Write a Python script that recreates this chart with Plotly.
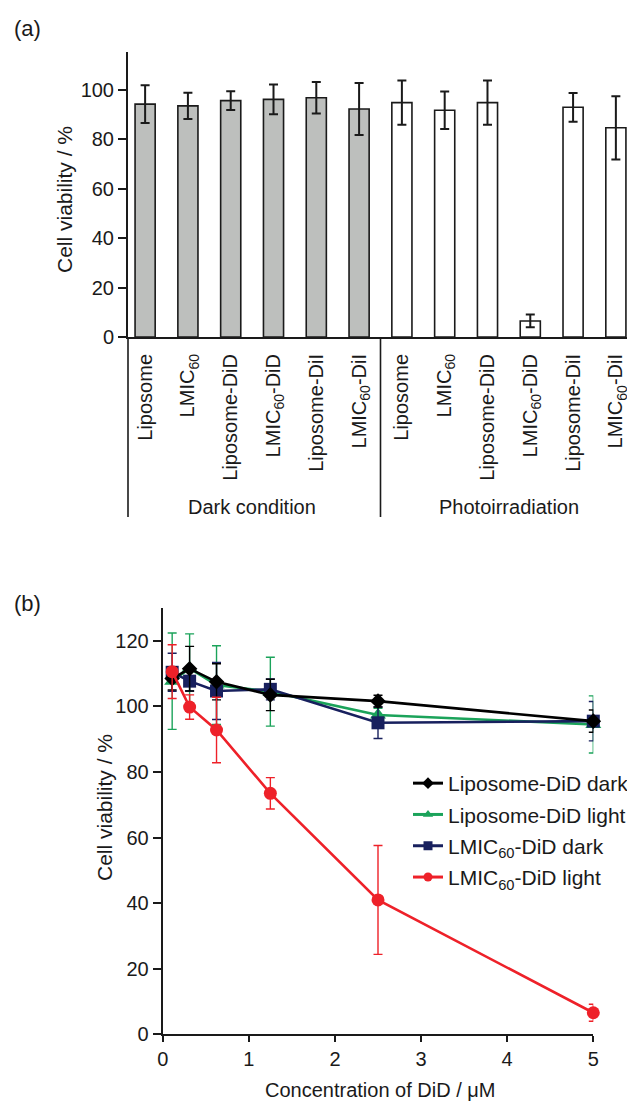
import plotly.graph_objects as go

W, H = 627, 1102
FONT = "Liberation Sans, Arial, sans-serif"

# ---------------- Panel (a) data ----------------
bar_labels = ["Liposome", "LMIC<sub>60</sub>", "Liposome-DiD",
              "LMIC<sub>60</sub>-DiD", "Liposome-DiI", "LMIC<sub>60</sub>-DiI"]
group_names = ["Dark condition", "Photoirradiation"]
dark_vals = [94.3, 93.6, 95.7, 96.2, 96.9, 92.3]
dark_err = [7.6, 5.3, 3.8, 6.0, 6.4, 10.5]
photo_vals = [94.9, 91.8, 94.9, 6.5, 93.0, 84.7]
photo_err = [9.0, 7.6, 9.0, 2.6, 5.8, 12.8]

# ---------------- Panel (b) data ----------------
conc = [0.11, 0.3125, 0.625, 1.25, 2.5, 5]
lip_dark = [108.5, 111.5, 107.5, 103.5, 101.6, 95.5]
lip_dark_err = [3.5, 6.8, 5.5, 4.8, 1.8, 3.4]
lip_light = [107.7, 111.6, 106.5, 104.5, 97.4, 94.5]
lip_light_err = [14.7, 10.5, 12.0, 10.5, 2.0, 8.7]
lmic_dark = [110.4, 107.7, 104.7, 105.2, 95.0, 95.5]
lmic_dark_err = [5.8, 3.0, 8.7, 3.2, 4.8, 6.0]
lmic_light = [110.6, 99.8, 92.8, 73.5, 41.0, 6.6]
lmic_light_err = [8.2, 3.7, 10.0, 4.8, 16.6, 2.6]

series_names = ["Liposome-DiD dark", "Liposome-DiD light",
                "LMIC<sub>60</sub>-DiD dark", "LMIC<sub>60</sub>-DiD light"]
series_colors = ["#000000", "#1BA35A", "#18205E", "#EE2129"]
series_symbols = ["diamond", "triangle-up", "square", "circle"]

# ---------------- layout geometry (pixels -> paper) ----------------
def px_x(p):
    return p / W

def px_y(p):
    return 1 - p / H

ax_a_dom = [px_x(128), 1.0]
ay_a_dom = [px_y(337), px_y(52)]
ax_a_range = [-0.4, 11.26]
ay_a_range = [0, 115.4]

ax_b_dom = [px_x(162.7), px_x(593.3)]
ay_b_dom = [px_y(1034.4), px_y(608)]

n_dark = len(dark_vals)
pos_dark = list(range(n_dark))
pos_photo = list(range(n_dark, n_dark + len(photo_vals)))

fig = go.Figure()

bar_line = dict(color="#1a1a1a", width=1.6)
fig.add_trace(go.Bar(
    x=pos_dark, y=dark_vals, width=0.47,
    marker=dict(color="#BDBFBD", line=bar_line),
    error_y=dict(type="data", array=dark_err, color="#1a1a1a", thickness=2, width=4.5),
    xaxis="x", yaxis="y", showlegend=False))
fig.add_trace(go.Bar(
    x=pos_photo, y=photo_vals, width=0.47,
    marker=dict(color="#FFFFFF", line=bar_line),
    error_y=dict(type="data", array=photo_err, color="#1a1a1a", thickness=2, width=4.5),
    xaxis="x", yaxis="y", showlegend=False))

# Panel (b) traces (draw order: green, navy, black, red)
series_data = [(lip_dark, lip_dark_err), (lip_light, lip_light_err),
               (lmic_dark, lmic_dark_err), (lmic_light, lmic_light_err)]
marker_sizes = [12, 14, 13, 13]
for idx in [1, 2, 0, 3]:
    vals, errs = series_data[idx]
    fig.add_trace(go.Scatter(
        x=conc, y=vals, mode="lines+markers",
        line=dict(color=series_colors[idx], width=2.6),
        marker=dict(symbol=series_symbols[idx], size=marker_sizes[idx],
                    color=series_colors[idx]),
        error_y=dict(type="data", array=errs, color=series_colors[idx],
                     thickness=1.4, width=4.5),
        cliponaxis=False, xaxis="x2", yaxis="y2", showlegend=False))

# legend-only traces with small markers
for i in range(4):
    fig.add_trace(go.Scatter(
        x=[None], y=[None], mode="lines+markers", name=series_names[i],
        line=dict(color=series_colors[i], width=3),
        marker=dict(symbol=series_symbols[i], size=9, color=series_colors[i]),
        legendgroup="g%d" % i,
        xaxis="x2", yaxis="y2", showlegend=True, legendrank=i + 1))

axis_common = dict(showline=True, linecolor="#1a1a1a", linewidth=2,
                   showgrid=False, zeroline=False,
                   tickfont=dict(family=FONT, size=20, color="#1a1a1a"),
                   tickcolor="#1a1a1a")

tick_pos = pos_dark + pos_photo
tick_text = bar_labels + bar_labels

fig.update_layout(
    width=W, height=H,
    margin=dict(l=0, r=0, t=0, b=0, autoexpand=False),
    paper_bgcolor="white", plot_bgcolor="white",
    font=dict(family=FONT, size=20, color="#1a1a1a"),
    barmode="overlay",
    xaxis=dict(domain=ax_a_dom, range=ax_a_range, anchor="y",
               tickvals=tick_pos, ticktext=tick_text, tickangle=-90,
               ticks="", ticklabelstandoff=7, ticklabeloverflow="allow",
               **axis_common),
    yaxis=dict(domain=ay_a_dom, range=ay_a_range, anchor="x",
               tickvals=[0, 20, 40, 60, 80, 100], ticks="outside",
               ticklen=8, tickwidth=1.6, **axis_common),
    xaxis2=dict(domain=ax_b_dom, range=[0, 5], anchor="y2",
                tickvals=[0, 1, 2, 3, 4, 5], ticks="outside",
                ticklen=6, tickwidth=1.6, **axis_common),
    yaxis2=dict(domain=ay_b_dom, range=[0, 130], anchor="x2",
                tickvals=[0, 20, 40, 60, 80, 100, 120], ticks="outside",
                ticklen=8, tickwidth=1.6, **axis_common),
    legend=dict(x=px_x(408), y=px_y(763), xanchor="left", yanchor="top",
                bgcolor="rgba(0,0,0,0)", font=dict(family=FONT, size=21),
                tracegroupgap=1, traceorder="grouped", itemsizing="trace"),
)

# Group separators below panel (a) x axis, mapped through the axis range
def a_paper_x(v):
    r0, r1 = ax_a_range
    return ax_a_dom[0] + (v - r0) / (r1 - r0) * (ax_a_dom[1] - ax_a_dom[0])

sep_bottom = px_y(517)
boundaries = [ax_a_range[0], (pos_dark[-1] + pos_photo[0]) / 2]
for b in boundaries:
    fig.add_shape(type="line", xref="paper", yref="paper",
                  x0=a_paper_x(b), x1=a_paper_x(b), y0=ay_a_dom[0], y1=sep_bottom,
                  line=dict(color="#1a1a1a", width=1.6))

group_centers = [sum(pos_dark) / len(pos_dark), sum(pos_photo) / len(pos_photo)]
for name, c in zip(group_names, group_centers):
    fig.add_annotation(x=c, xref="x", y=px_y(507), yref="paper", text=name,
                       showarrow=False, font=dict(family=FONT, size=20),
                       xanchor="center", yanchor="middle")

# Axis titles and panel labels
fig.add_annotation(x=px_x(64), y=px_y(200), xref="paper", yref="paper",
                   text="Cell viability / %", textangle=-90, showarrow=False,
                   font=dict(family=FONT, size=21), xanchor="center", yanchor="middle")
fig.add_annotation(x=px_x(104), y=px_y(808), xref="paper", yref="paper",
                   text="Cell viability / %", textangle=-90, showarrow=False,
                   font=dict(family=FONT, size=21), xanchor="center", yanchor="middle")
fig.add_annotation(x=px_x(381), y=px_y(1090), xref="paper", yref="paper",
                   text="Concentration of DiD / μM", showarrow=False,
                   font=dict(family=FONT, size=20), xanchor="center", yanchor="middle")
fig.add_annotation(x=px_x(27), y=px_y(28), xref="paper", yref="paper",
                   text="(a)", showarrow=False,
                   font=dict(family=FONT, size=22), xanchor="center", yanchor="middle")
fig.add_annotation(x=px_x(27), y=px_y(603), xref="paper", yref="paper",
                   text="(b)", showarrow=False,
                   font=dict(family=FONT, size=22), xanchor="center", yanchor="middle")

fig.write_html(
    "out.html",
    config={"displayModeBar": False},
    post_script="document.body.style.margin='0';document.body.style.padding='0';"
                "document.documentElement.style.overflow='hidden';",
)
